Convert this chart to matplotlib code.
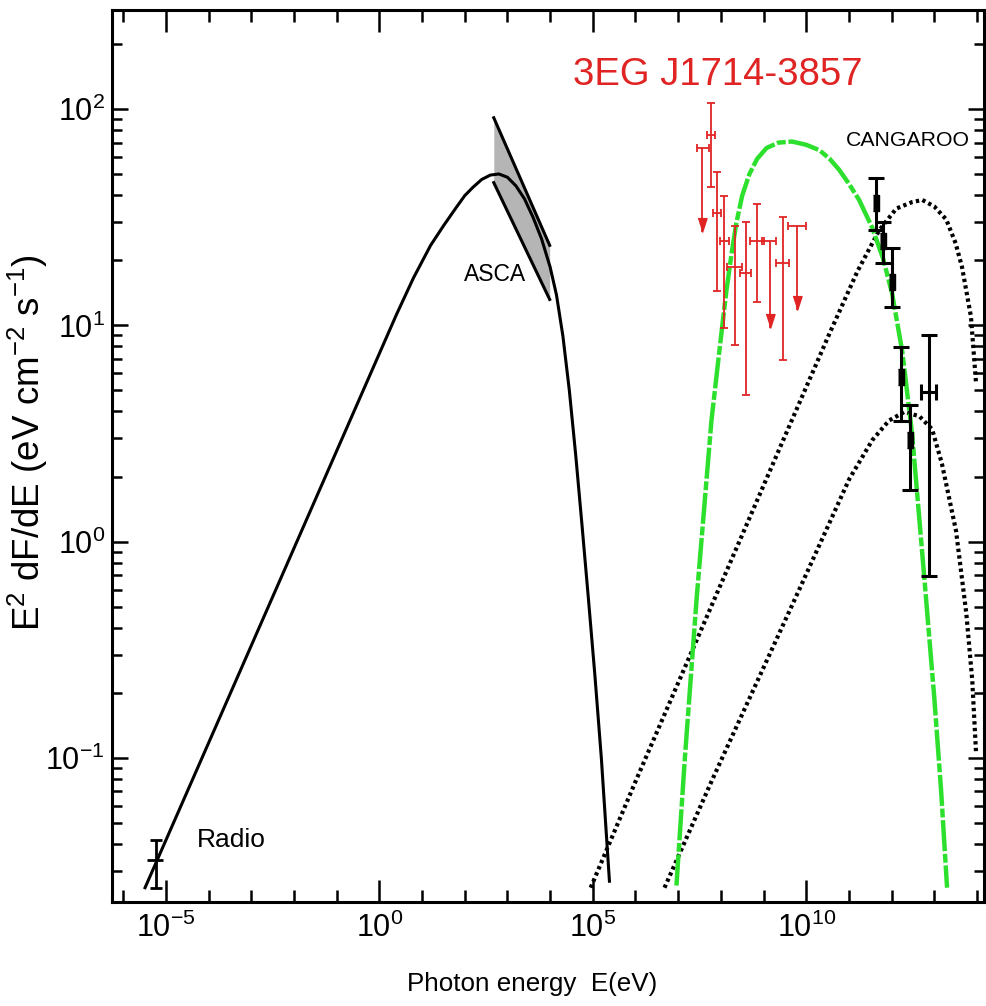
import numpy as np
import matplotlib
matplotlib.use('Agg')
import matplotlib.pyplot as plt
from matplotlib.ticker import LogLocator, FixedLocator, NullFormatter

plt.rcParams['font.family'] = ['Liberation Sans', 'DejaVu Sans']
plt.rcParams['mathtext.fontset'] = 'custom'
plt.rcParams['mathtext.rm'] = 'Liberation Sans'
plt.rcParams['mathtext.it'] = 'Liberation Sans:italic'
plt.rcParams['mathtext.bf'] = 'Liberation Sans:bold'

# synchrotron model (log10 E [eV], log10 E^2 dF/dE)
sync_logE = [-5.49, -4.0, -3.0, -2.0, -1.0, 0.0, 0.4, 0.8, 1.2, 1.5, 1.8, 2.0, 2.2, 2.4,
             2.6, 2.8, 3.0, 3.2, 3.4, 3.6, 3.8, 4.0, 4.15, 4.3, 4.45, 4.6, 4.75, 4.9,
             5.05, 5.2, 5.39]
sync_logF = [-1.60, -0.93, -0.48, -0.03, 0.42, 0.87, 1.05, 1.22, 1.37, 1.46, 1.545, 1.60,
             1.64, 1.675, 1.695, 1.70, 1.685, 1.645, 1.585, 1.50, 1.40, 1.27, 1.14, 0.95,
             0.70, 0.40, 0.07, -0.27, -0.62, -1.00, -1.57]

# pi0-decay model (green)
pion_logE = [6.96, 7.15, 7.43, 7.78, 7.97, 8.13, 8.25, 8.36, 8.5, 8.67, 8.85, 9.07, 9.35,
             9.67, 10.0, 10.31, 10.55, 10.77, 11.0, 11.24, 11.55, 11.8, 12.01, 12.25,
             12.48, 12.76, 13.0, 13.16, 13.3]
pion_logF = [-1.59, -1.02, -0.27, 0.56, 0.89, 1.16, 1.33, 1.47, 1.60, 1.70, 1.77, 1.82,
             1.845, 1.85, 1.835, 1.81, 1.77, 1.72, 1.655, 1.58, 1.45, 1.31, 1.15, 0.88,
             0.50, -0.15, -0.72, -1.15, -1.60]

# inverse Compton models (dotted)
ic1_logE = [4.95, 6.02, 9.44, 10.54, 11.2, 11.71, 12.11, 12.48, 12.72, 13.0, 13.28, 13.5,
            13.65, 13.86, 13.98]
ic1_logF = [-1.60, -1.10, 0.46, 0.96, 1.25, 1.44, 1.54, 1.57, 1.58, 1.55, 1.49, 1.38,
            1.27, 1.04, 0.73]
ic2_logE = [6.68, 7.80, 9.84, 11.01, 11.55, 11.94, 12.30, 12.65, 12.95, 13.18, 13.51,
            13.75, 13.89, 13.98]
ic2_logF = [-1.60, -1.10, -0.22, 0.29, 0.47, 0.56, 0.60, 0.58, 0.52, 0.36, 0.05,
            -0.33, -0.64, -0.98]

# radio point
radio_logE = [-5.23]
radio_logF = [-1.47]
radio_logF_lo = [-1.60]
radio_logF_hi = [-1.38]
radio_logE_lo = [-5.45]
radio_logE_hi = [-5.07]

# ASCA bowtie
asca_logE = [2.68, 3.99]
asca_upper = [1.96, 1.37]
asca_lower = [1.66, 1.12]

# EGRET points
egret_logE = [7.57, 7.78, 7.92, 8.08, 8.34, 8.60, 8.85, 9.16, 9.46, 9.79]
egret_logE_lo = [7.45, 7.68, 7.82, 7.99, 8.15, 8.46, 8.69, 8.97, 9.30, 9.58]
egret_logE_hi = [7.73, 7.87, 8.01, 8.18, 8.50, 8.71, 9.00, 9.30, 9.60, 10.00]
egret_logF = [1.82, 1.88, 1.52, 1.39, 1.27, 1.24, 1.39, 1.39, 1.29, 1.46]
egret_logF_lo = [1.43, 1.64, 1.16, 0.99, 0.91, 0.68, 1.11, 0.99, 0.84, 1.07]
egret_logF_hi = [1.82, 2.03, 1.71, 1.60, 1.46, 1.48, 1.56, 1.39, 1.50, 1.46]
egret_is_ul = [True, False, False, False, False, False, False, True, False, True]

# CANGAROO points
cang_logE = [11.64, 11.80, 12.01, 12.23, 12.44, 12.88]
cang_logE_lo = [11.64, 11.80, 12.01, 12.23, 12.44, 12.69]
cang_logE_hi = [11.64, 11.80, 12.01, 12.23, 12.44, 13.04]
cang_logF = [1.565, 1.39, 1.20, 0.76, 0.47, 0.69]
cang_logF_lo = [1.44, 1.29, 1.085, 0.56, 0.24, -0.16]
cang_logF_hi = [1.68, 1.48, 1.36, 0.90, 0.63, 0.955]

x_major = [-5, 0, 5, 10]

red = '#e02424'
green = '#2ee02e'

fig = plt.figure(figsize=(9.86, 10.06), dpi=100)
ax = fig.add_axes([0.1136, 0.1034, 0.998 - 0.1136, 0.990 - 0.1034])
ax.set_xscale('log')
ax.set_yscale('log')

p = lambda a: 10 ** np.asarray(a, dtype=float)

# models
ax.plot(p(sync_logE), p(sync_logF), color='black', lw=2.2, zorder=3)
ax.plot(p(ic1_logE), p(ic1_logF), color='black', lw=3.0, ls=(0, (0.8, 0.8)), zorder=2)
ax.plot(p(ic2_logE), p(ic2_logF), color='black', lw=3.0, ls=(0, (0.8, 0.8)), zorder=2)
ax.plot(p(pion_logE), p(pion_logF), color=green, lw=3.2, ls=(0, (7, 0.6, 2, 0.6)), zorder=4)

# ASCA bowtie
ax.fill_between(p(asca_logE), p(asca_lower), p(asca_upper), color='#b5b5b5', lw=0, zorder=1)
ax.plot(p(asca_logE), p(asca_upper), color='black', lw=2.2, zorder=3)
ax.plot(p(asca_logE), p(asca_lower), color='black', lw=2.2, zorder=3)

# radio point
rx, ry = p(radio_logE), p(radio_logF)
ax.errorbar(rx, ry, yerr=[ry - p(radio_logF_lo), p(radio_logF_hi) - ry], fmt='none',
            ecolor='black', elinewidth=2.0, capsize=4.5, capthick=2.0, zorder=5)
ax.errorbar(rx, ry, xerr=[rx - p(radio_logE_lo), p(radio_logE_hi) - rx], fmt='none',
            ecolor='black', elinewidth=2.0, capsize=0, zorder=5)

# EGRET
ex, ey = p(egret_logE), p(egret_logF)
ul = np.array(egret_is_ul)
det = ~ul
ax.errorbar(ex[det], ey[det],
            yerr=[(ey - p(egret_logF_lo))[det], (p(egret_logF_hi) - ey)[det]],
            xerr=[(ex - p(egret_logE_lo))[det], (p(egret_logE_hi) - ex)[det]],
            fmt='none', ecolor=red, elinewidth=1.3, capsize=3, capthick=1.3, zorder=6)
ax.errorbar(ex[ul], ey[ul],
            xerr=[(ex - p(egret_logE_lo))[ul], (p(egret_logE_hi) - ex)[ul]],
            fmt='none', ecolor=red, elinewidth=1.3, capsize=3, capthick=1.3, zorder=6)
ax.vlines(ex[ul], p(egret_logF_lo)[ul], ey[ul], color=red, lw=1.3, zorder=6)
arrow = [(-1.3, 4), (1.3, 4), (0, 0)]
ax.plot(ex[ul], p(egret_logF_lo)[ul], ls='none', marker=arrow, ms=20,
        color=red, mec=red, zorder=6)

# CANGAROO
cx, cy = p(cang_logE), p(cang_logF)
ax.errorbar(cx, cy, yerr=[cy - p(cang_logF_lo), p(cang_logF_hi) - cy],
            xerr=[cx - p(cang_logE_lo), p(cang_logE_hi) - cx],
            fmt='none', ecolor='black', elinewidth=2.2, capsize=5.5, capthick=2.2, zorder=7)
box = [(-1, -3), (1, -3), (1, 3), (-1, 3)]
ax.plot(cx[:5], cy[:5], ls='none', marker=box, ms=12, color='black', zorder=7)

# texts
ax.text(p(7.92), p(2.157), '3EG J1714-3857', color=red, fontsize=27.5,
        ha='center', va='center')
ax.text(p(12.39), p(1.857), 'CANGAROO', fontsize=15.3, ha='center', va='center')
ax.text(p(2.70), p(1.237), 'ASCA', fontsize=16.5, ha='center', va='center')
ax.text(p(-3.48), p(-1.38), 'Radio', fontsize=19, ha='center', va='center')

# axes styling
ax.set_xlim(p(-6.264), p(14.166))
ax.set_ylim(p(-1.666), p(2.458))
ax.xaxis.set_major_locator(FixedLocator(p(x_major)))
ax.xaxis.set_minor_locator(LogLocator(base=10, subs=(1.0,), numticks=40))
ax.xaxis.set_minor_formatter(NullFormatter())
ax.yaxis.set_major_locator(LogLocator(base=10, numticks=20))
ax.yaxis.set_minor_locator(LogLocator(base=10, subs=np.arange(2, 10), numticks=40))
ax.yaxis.set_minor_formatter(NullFormatter())

ax.tick_params(axis='both', which='both', direction='in', top=True, right=True,
               width=1.8, labelsize=22)
ax.tick_params(axis='x', which='major', length=15.5, pad=8)
ax.tick_params(axis='x', which='minor', length=8.5)
ax.tick_params(axis='y', which='major', length=11.5, pad=5)
ax.tick_params(axis='y', which='minor', length=7)
for s in ax.spines.values():
    s.set_linewidth(2.2)

ax.set_ylabel('E$^2$ dF/dE (eV cm$^{-2}$ s$^{-1}$)', fontsize=26.5)
ax.yaxis.set_label_coords(-0.071, 0.515)
ax.set_xlabel('Photon energy  E(eV)', fontsize=18.7)
ax.xaxis.set_label_coords(0.482, -0.078)
ax.xaxis.label.set_va('top')

fig.savefig('out.png', dpi=100)
